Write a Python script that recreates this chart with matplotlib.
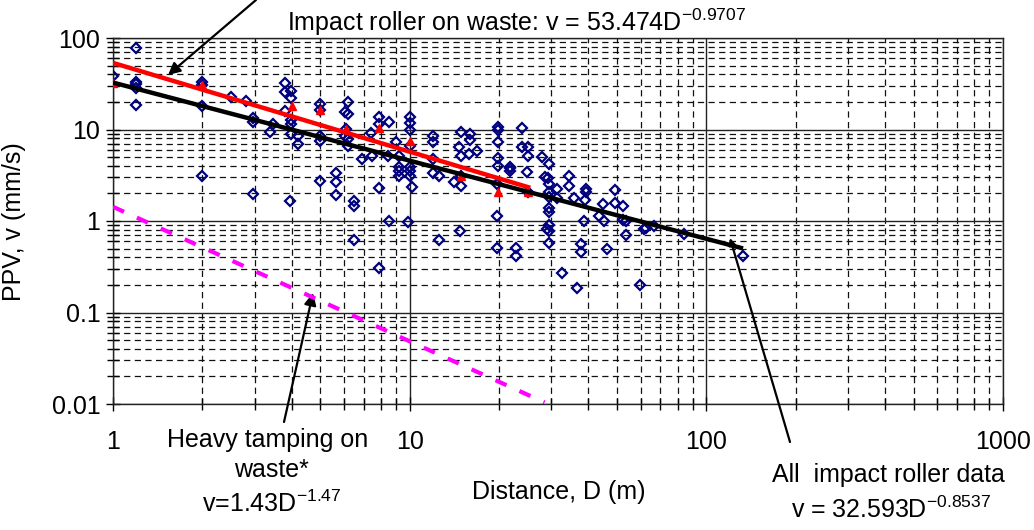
import matplotlib
matplotlib.use("Agg")
import matplotlib.pyplot as plt
import numpy as np
from matplotlib.ticker import LogLocator, NullFormatter, FixedLocator, FixedFormatter

plt.rcParams['font.family'] = ['Liberation Sans', 'DejaVu Sans']
plt.rcParams['mathtext.default'] = 'regular'

# ---- data ----
all_D = [1.0, 1.2, 1.2, 1.2, 1.2, 1.2, 2.0, 2.0, 2.0, 2.0, 2.5, 2.81, 2.97, 2.97, 2.97,
         3.38, 3.46, 3.8, 3.8, 3.8, 3.98, 3.98, 3.98, 3.98, 3.98, 3.95, 4.2, 4.2,
         5.0, 5.0, 5.0, 5.0, 5.0, 5.63, 5.63, 5.63,
         6.2, 6.05, 6.2, 6.1, 6.05, 6.2, 6.2, 6.5, 6.5, 6.5, 6.9, 7.45, 7.4,
         7.9, 7.9, 7.9, 7.9, 8.5, 8.45, 8.5, 9.0, 9.2, 9.2, 9.2, 9.2,
         10.0, 10.0, 10.0, 10.0, 10.0, 10.0, 10.0, 9.9, 10.2,
         12.0, 12.0, 12.0, 11.95, 12.6, 12.6, 14.1,
         14.9, 14.7, 14.9, 14.9, 14.9, 14.8, 16.0, 16.0, 15.8, 16.8,
         19.8, 19.8, 19.8, 19.8, 19.8, 19.7, 19.7, 19.7,
         21.8, 21.8, 21.8, 22.9, 22.9, 24.0, 24.0, 25.1, 25.0, 24.8, 25.1,
         28.0, 28.6, 29.5, 29.2, 29.5, 29.5, 29.5, 29.5, 29.5, 29.5, 29.0, 29.5, 29.5,
         31.5, 31.5, 32.5, 34.5, 34.5, 35.8, 36.6, 37.7, 37.7, 38.7,
         39.2, 39.4, 39.0, 43.6, 44.9, 45.1, 46.4, 49.1, 49.1, 52.2, 52.2,
         53.4, 53.8, 59.8, 61.8, 62.7, 66.5, 83.9, 133.0]
all_v = [38.7, 77.8, 33.3, 31.3, 28.2, 18.7, 33.3, 31.0, 18.2, 3.08, 22.5, 20.6, 13.3, 12.0, 1.97,
         9.5, 11.5, 32.0, 25.5, 16.1, 26.6, 21.9, 12.7, 11.5, 8.9, 1.64, 8.57, 6.95,
         19.0, 16.5, 8.57, 7.55, 2.76, 3.35, 2.69, 1.94,
         19.8, 15.6, 14.7, 10.1, 8.4, 7.9, 6.6, 1.64, 1.47, 0.62, 4.75, 5.17, 9.1,
         13.6, 11.5, 2.29, 0.31, 12.0, 5.17, 0.99, 7.25, 5.17, 3.86, 3.55, 3.08,
         13.6, 11.8, 9.97, 6.67, 3.93, 3.55, 3.08, 0.97, 2.33,
         8.57, 7.25, 4.76, 3.35, 3.08, 0.62, 2.69,
         9.35, 6.4, 5.17, 3.08, 2.43, 0.77, 8.9, 7.76, 5.39, 5.87,
         10.6, 9.97, 7.25, 4.84, 4.03, 2.54, 1.13, 0.507,
         3.86, 3.76, 3.55, 0.507, 0.41, 10.3, 6.4, 6.4, 5.17, 3.46, 2.06,
         4.97, 3.0, 4.2, 2.95, 2.54, 2.06, 1.81, 1.38, 1.24, 0.9, 0.82, 0.77, 0.575,
         2.24, 1.77, 0.268, 3.08, 2.39, 1.77, 0.184, 0.56, 0.46, 1.0,
         2.06, 2.24, 1.71, 1.14, 1.53, 1.0, 0.49, 2.2, 1.57, 1.47, 1.03,
         1.0, 0.7, 0.2, 0.81, 0.83, 0.89, 0.72, 0.417]

waste_D = [1.0, 2.0, 4.0, 5.0, 6.1, 7.9, 10.0, 14.9, 19.8, 25.1]
waste_v = [32.0, 31.0, 18.2, 16.5, 10.1, 10.3, 7.4, 3.08, 2.09, 2.06]

# power-law fits: v = a * D^b, drawn over the given distance range
fit_waste = (53.474, -0.9707, 1.0, 25.5)
fit_all = (32.593, -0.8537, 1.0, 133.0)
fit_tamping = (1.43, -1.47, 1.0, 28.5)

x_ticks = [1, 10, 100, 1000]
x_ticklabels = ['1', '10', '100', '1000']
y_ticks = [0.01, 0.1, 1, 10, 100]
y_ticklabels = ['0.01', '0.1', '1', '10', '100']

W, H = 1034, 530
fig = plt.figure(figsize=(W / 100, H / 100), dpi=100)
ax = fig.add_axes([113 / W, 1 - 404 / H, 890 / W, 366 / H])
ax.set_xscale('log')
ax.set_yscale('log')
ax.set_xlim(1, 1000)
ax.set_ylim(0.01, 100)

ax.xaxis.set_major_locator(FixedLocator(x_ticks))
ax.xaxis.set_major_formatter(FixedFormatter(x_ticklabels))
ax.yaxis.set_major_locator(FixedLocator(y_ticks))
ax.yaxis.set_major_formatter(FixedFormatter(y_ticklabels))
ax.xaxis.set_minor_locator(LogLocator(base=10, subs=np.arange(2, 10), numticks=20))
ax.yaxis.set_minor_locator(LogLocator(base=10, subs=np.arange(2, 10), numticks=20))
ax.xaxis.set_minor_formatter(NullFormatter())
ax.yaxis.set_minor_formatter(NullFormatter())

ax.grid(which='major', color='#222222', linestyle='-', linewidth=1.0)
ax.grid(which='minor', color='#111111', linestyle=(0, (5, 3.5)), linewidth=0.9)
ax.set_axisbelow(True)

fs = 18
ax.tick_params(which='major', direction='inout', length=10, width=1, labelsize=fs,
               color='black')
ax.tick_params(which='minor', direction='inout', length=8, width=1, color='black')
ax.tick_params(axis='x', which='major', pad=14)
ax.tick_params(axis='y', which='major', pad=4)
for s in ax.spines.values():
    s.set_color('#222222')
    s.set_linewidth(1.0)

ax.plot(all_D, all_v, linestyle='none', marker='D', markersize=5.5,
        markerfacecolor='none', markeredgecolor='#000080', markeredgewidth=1.6, zorder=3)
ax.plot(waste_D, waste_v, linestyle='none', marker='^', markersize=5.5,
        color='#ff0000', zorder=4)

def fitline(p):
    a, b, d0, d1 = p
    d = np.logspace(np.log10(d0), np.log10(d1), 200)
    return d, a * d ** b

d, v = fitline(fit_waste)
ax.plot(d, v, color='#ff0000', linewidth=3.2, zorder=5, solid_capstyle='butt')
d, v = fitline(fit_all)
ax.plot(d, v, color='black', linewidth=3.2, zorder=6, solid_capstyle='butt')
d, v = fitline(fit_tamping)
ax.plot(d, v, color='#ff00ff', linewidth=3.0, linestyle=(0, (2.9, 3.4)), zorder=5)

def fx(px):
    return px / W

def fy(py):
    return 1 - py / H

fig.text(fx(287), fy(31), 'Impact roller on waste: v = 53.474D$^{-0.9707}$',
         fontsize=fs, ha='left', va='baseline')
fig.text(fx(268), fy(440), 'Heavy tamping on', fontsize=fs, ha='center', va='center')
fig.text(fx(271), fy(470), 'waste*', fontsize=fs, ha='center', va='center')
fig.text(fx(202), fy(512), 'v=1.43D$^{-1.47}$', fontsize=fs, ha='left', va='baseline')
fig.text(fx(559), fy(492), 'Distance, D (m)', fontsize=fs, ha='center', va='center')
fig.text(fx(888), fy(475), 'All  impact roller data', fontsize=fs, ha='center', va='center')
fig.text(fx(791), fy(518), 'v = 32.593D$^{-0.8537}$', fontsize=fs, ha='left', va='baseline')
fig.text(fx(14), fy(222), 'PPV, v (mm/s)', fontsize=fs, ha='center', va='center',
         rotation=90)

arrowprops = dict(arrowstyle='-|>', color='black', lw=1.6, mutation_scale=18,
                  shrinkA=0, shrinkB=0)
ax.annotate('', xy=(fx(168), fy(75)), xycoords='figure fraction',
            xytext=(fx(256), fy(0)), textcoords='figure fraction',
            arrowprops=arrowprops, annotation_clip=False)
ax.annotate('', xy=(fx(313), fy(293)), xycoords='figure fraction',
            xytext=(fx(284), fy(422)), textcoords='figure fraction',
            arrowprops=arrowprops, annotation_clip=False)
ax.annotate('', xy=(fx(730), fy(238)), xycoords='figure fraction',
            xytext=(fx(790), fy(442)), textcoords='figure fraction',
            arrowprops=dict(arrowstyle='-|>', color='black', lw=1.6, mutation_scale=10,
                            shrinkA=0, shrinkB=0), annotation_clip=False)

fig.savefig('out.png', dpi=100)
